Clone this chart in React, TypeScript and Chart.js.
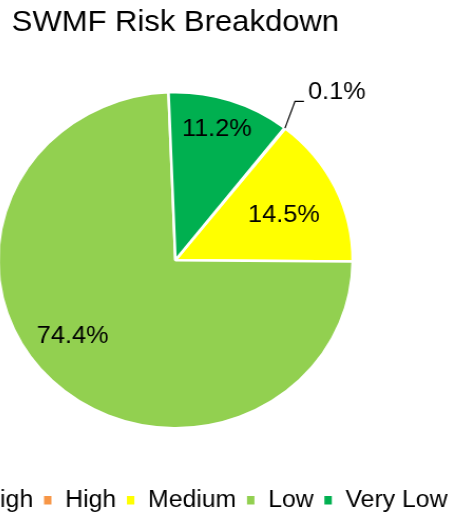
import React, { useEffect, useRef } from "react";
import { Chart, registerables } from "chart.js";

Chart.register(...registerables);

// ---- data ----
const categories = ["Very High", "High", "Medium", "Low", "Very Low"];
const shares = [0, 0.1, 14.5, 74.4, 11.2];
const sliceColors = ["#FF0000", "#F79646", "#FFFF00", "#92D050", "#00B050"];
const chartTitle = "SWMF Risk Breakdown";

// ---- layout / style ----
const FONT = "'Liberation Sans', Arial, Helvetica, sans-serif";
const SX = 1.055; // horizontal stretch of the original picture
const W = 560;
const H = 522;
const CENTER_X = 175;
const LEFT = CENTER_X - (W / 2) * SX;

// label placement per slice (style only): radial fraction and angle tweak (deg)
const placement: any[] = [
  null,
  { outside: true, dx1: 9.5, dy1: -26.8, dx2: 8.5, gap: 3.8, textDy: -8.5 },
  { frac: 0.667, dA: 2.2 },
  { frac: 0.737, dA: 7.8 },
  { frac: 0.81, dA: -1.1 },
];

const labelPlugin = {
  id: "sliceLabels",
  afterDatasetsDraw(chart: any) {
    const ctx = chart.ctx;
    const meta = chart.getDatasetMeta(0);
    const data = chart.data.datasets[0].data as number[];
    ctx.save();
    ctx.font = `24px ${FONT}`;
    ctx.fillStyle = "#000";
    meta.data.forEach((arc: any, i: number) => {
      const v = data[i];
      const p = placement[i];
      if (!v || !p) return;
      const { x, y, startAngle, endAngle, outerRadius } = arc.getProps(
        ["x", "y", "startAngle", "endAngle", "outerRadius"],
        true
      );
      const mid = (startAngle + endAngle) / 2;
      const text = v.toFixed(1) + "%";
      if (p.outside) {
        const ex = x + Math.cos(mid) * outerRadius;
        const ey = y + Math.sin(mid) * outerRadius;
        const bx = ex + p.dx1;
        const by = ey + p.dy1;
        const hx = bx + p.dx2;
        ctx.strokeStyle = "#000";
        ctx.lineWidth = 1.2;
        ctx.beginPath();
        ctx.moveTo(ex, ey);
        ctx.lineTo(bx, by);
        ctx.lineTo(hx, by);
        ctx.stroke();
        ctx.textAlign = "left";
        ctx.textBaseline = "middle";
        ctx.fillText(text, hx + p.gap, by + p.textDy);
      } else {
        const a = mid + (p.dA * Math.PI) / 180;
        const r = outerRadius * p.frac;
        ctx.textAlign = "center";
        ctx.textBaseline = "middle";
        ctx.fillText(text, x + Math.cos(a) * r, y + Math.sin(a) * r);
      }
    });
    ctx.restore();
  },
};

export default function App() {
  const ref = useRef<HTMLCanvasElement>(null);

  useEffect(() => {
    if (!ref.current) return;
    Chart.defaults.font.family = FONT;
    const chart = new Chart(ref.current, {
      type: "pie",
      data: {
        labels: categories,
        datasets: [
          {
            data: shares,
            backgroundColor: sliceColors,
            borderColor: "#FFFFFF",
            borderWidth: 2.5,
          },
        ],
      },
      options: {
        responsive: false,
        animation: false,
        rotation: 38,
        radius: 168,
        layout: { padding: 0 },
        plugins: {
          title: {
            display: true,
            text: chartTitle,
            color: "#000",
            font: { family: FONT, size: 29.4, weight: "normal" },
            padding: { top: 5, bottom: 0.5 },
          },
          legend: {
            display: true,
            position: "bottom",
            labels: {
              boxWidth: 9.5,
              boxHeight: 11,
              padding: 9,
              color: "#000",
              font: { family: FONT, size: 23.5 },
            },
          },
          tooltip: { enabled: false },
        },
      } as any,
      plugins: [labelPlugin],
    });
    return () => chart.destroy();
  }, []);

  return (
    <div
      style={{
        position: "fixed",
        left: 0,
        top: 0,
        width: 453,
        height: 512,
        overflow: "hidden",
        background: "#fff",
      }}
    >
      <canvas
        ref={ref}
        width={W}
        height={H}
        style={{
          position: "absolute",
          left: LEFT,
          top: 0,
          width: W,
          height: H,
          transform: `scaleX(${SX})`,
          transformOrigin: "0 0",
        }}
      />
    </div>
  );
}
